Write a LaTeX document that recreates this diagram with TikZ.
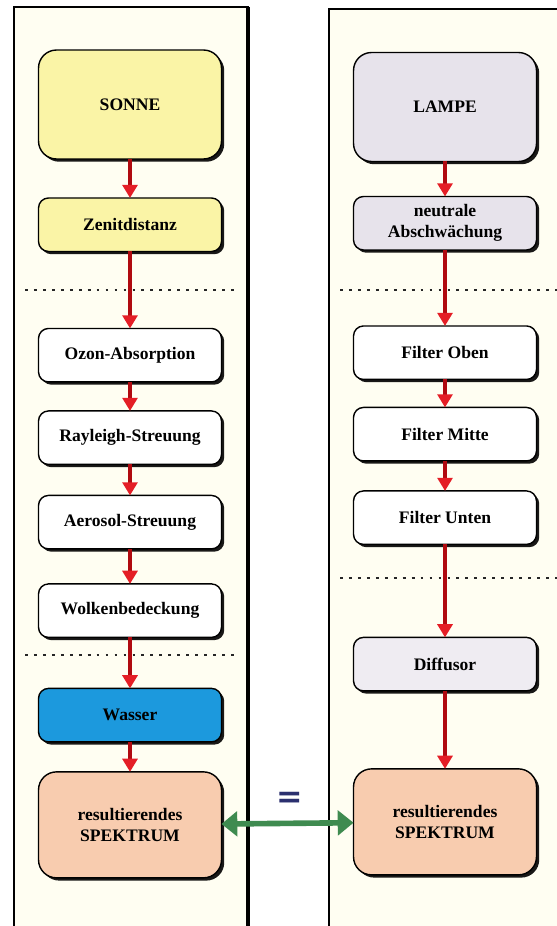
\documentclass[tikz,border=0pt]{standalone}
\usepackage{fontspec}
\setmainfont{Liberation Serif}
\newfontfamily\kastenschrift{Liberation Serif}
\newfontfamily\zeichenschrift{DejaVu Sans}
\usetikzlibrary{positioning,shadows,arrows.meta}

\definecolor{panelbg}{HTML}{FFFEF2}
\definecolor{sonnegelb}{HTML}{FAF4A6}
\definecolor{lampegrau}{HTML}{E7E3EB}
\definecolor{diffgrau}{HTML}{EFECF2}
\definecolor{wasserblau}{HTML}{1C99DD}
\definecolor{spekrosa}{HTML}{F8CCAF}
\definecolor{pfeilrot}{HTML}{E41E26}
\definecolor{pfeildunkel}{HTML}{B00A10}
\definecolor{gruen}{HTML}{3F8B50}
\definecolor{marine}{HTML}{2B306F}

\begin{document}
\begin{tikzpicture}[x=0.02cm, y=-0.02cm,
    every node/.style={font=\kastenschrift\fontsize{10}{12}\selectfont\bfseries, align=center},
    box/.style={rectangle, draw=black, line width=0.8pt, rounded corners=0.2cm, outer sep=0pt,
        minimum width=3.66cm, minimum height=1.07cm, inner sep=2pt,
        drop shadow={shadow xshift=0.055cm, shadow yshift=-0.055cm, fill=black, opacity=0.9}},
    bigbox/.style={box, rounded corners=0.36cm, minimum height=2.18cm},
    flow/.style={draw=pfeildunkel, line width=1.8pt, -{Triangle[length=7.5pt, width=8.5pt, color=pfeilrot]}},
    sepline/.style={draw=black!85, line width=1.1pt, dash pattern=on 1.6pt off 3.5pt}]

    \useasboundingbox (0,0) rectangle (557,926);
    \clip (0,0) rectangle (557,926);

    % Hintergrund
    \fill[white] (0,0) rectangle (557,926);
    \draw[fill=panelbg, line width=0.8pt] (14,7) rectangle (248,940);
    \draw[line width=2pt] (248,7) -- (248,940);
    \draw[fill=panelbg, line width=0.8pt] (329,9) rectangle (580,940);

    % Trennlinien
    \draw[sepline] (25,290) -- (238,290);
    \draw[sepline] (25,655) -- (238,655);
    \draw[sepline] (340,290) -- (557,290);
    \draw[sepline] (340,578) -- (557,578);

    % Sonne
    \node[bigbox, fill=sonnegelb] (sonne) at (130,104.5) {SONNE};
    \node[box, fill=sonnegelb, below=0.78cm of sonne] (zenit) {Zenitdistanz};
    \node[box, fill=white, below=1.54cm of zenit] (ozon) {Ozon-Absorption};
    \node[box, fill=white, below=0.58cm of ozon] (rayleigh) {Rayleigh-Streuung};
    \node[box, fill=white, below=0.62cm of rayleigh] (aerosol) {Aerosol-Streuung};
    \node[box, fill=white, below=0.70cm of aerosol] (wolken) {Wolkenbedeckung};
    \node[box, fill=wasserblau, below=1.02cm of wolken] (wasser) {Wasser};
    \node[bigbox, fill=spekrosa, minimum height=2.12cm, below=0.60cm of wasser] (spekL) {resultierendes\\SPEKTRUM};

    % Lampe
    \node[bigbox, fill=lampegrau] (lampe) at (445,107) {LAMPE};
    \node[box, fill=lampegrau, below=0.70cm of lampe] (neutral) {neutrale\\Abschwächung};
    \node[box, fill=white, below=1.52cm of neutral] (oben) {Filter Oben};
    \node[box, fill=white, below=0.56cm of oben] (mitte) {Filter Mitte};
    \node[box, fill=white, below=0.60cm of mitte] (unten) {Filter Unten};
    \node[box, fill=diffgrau, below=1.86cm of unten] (diffusor) {Diffusor};
    \node[bigbox, fill=spekrosa, minimum height=2.12cm, below=1.56cm of diffusor] (spekR) {resultierendes\\SPEKTRUM};

    \node[text=marine, font=\zeichenschrift\fontsize{18}{20}\selectfont\bfseries] (gleich) at (290,800) {=};

    \draw[flow] (sonne) -- (zenit);
    \draw[flow] (zenit) -- (ozon);
    \draw[flow] (ozon) -- (rayleigh);
    \draw[flow] (rayleigh) -- (aerosol);
    \draw[flow] (aerosol) -- (wolken);
    \draw[flow] (wolken) -- (wasser);
    \draw[flow] (wasser) -- (spekL);

    \draw[flow] (lampe) -- (neutral);
    \draw[flow] (neutral) -- (oben);
    \draw[flow] (oben) -- (mitte);
    \draw[flow] (mitte) -- (unten);
    \draw[flow] (unten) -- (diffusor);
    \draw[flow] (diffusor) -- (spekR);

    \draw[gruen, line width=3.2pt, {Triangle[length=9pt, width=14pt]}-{Triangle[length=9pt, width=14pt]}] (spekL) -- (spekR);
\end{tikzpicture}
\end{document}
